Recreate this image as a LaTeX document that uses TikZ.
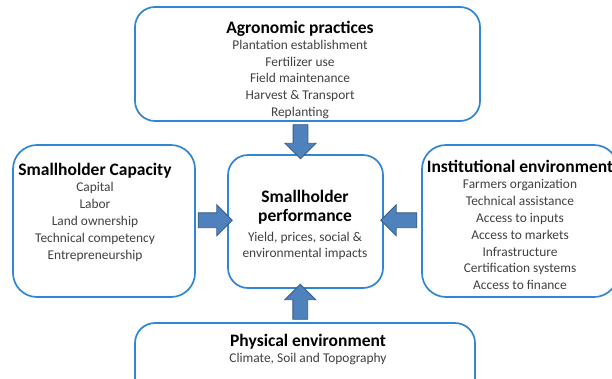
\documentclass[tikz,border=0pt]{standalone}
\usepackage{fontspec}
\setmainfont{Carlito}
\usetikzlibrary{positioning,shapes.arrows}
\definecolor{boxblue}{RGB}{46,134,212}
\definecolor{arrowfill}{RGB}{79,129,189}
\definecolor{arrowline}{RGB}{56,93,138}
\definecolor{itemgrey}{RGB}{64,64,64}
\tikzset{
  factor/.style={draw=boxblue, line width=1.7pt, rounded corners=20pt, fill=white, inner sep=0pt},
  heading/.style={font=\fontsize{17.5}{19}\selectfont\bfseries, text depth=4pt, inner sep=0pt, align=center},
  itemlist/.style={font=\fontsize{13.4}{16.8}\selectfont, text=itemgrey, align=center, inner sep=0pt},
  fatarrow/.style={single arrow, draw=arrowline, fill=arrowfill, line width=0.8pt, inner sep=7pt,
    text width=0pt, text height=0pt, text depth=0pt, minimum width=0pt, single arrow head extend=8pt, single arrow tip angle=90}
}

\begin{document}
\begin{tikzpicture}[x=1pt,y=-1pt]
\clip (0,0) rectangle (612,378);
\fill[white] (0,0) rectangle (612,378);

\node[factor, minimum width=345pt, minimum height=114pt] (agro) at (307.5,64) {};
\node[factor, minimum width=182pt, minimum height=152pt, rounded corners=24pt] (cap) at (104,221) {};
\node[factor, minimum width=155pt, minimum height=133pt] (perf) at (305.5,221.5) {};
\node[factor, minimum width=196pt, minimum height=152pt, rounded corners=24pt] (inst) at (520,221) {};
\node[factor, minimum width=340pt, minimum height=80pt] (phys) at (305,363) {};

\path (agro.south) -- node[fatarrow, minimum height=34pt, shape border rotate=270, xshift=-6pt] (agroarrow) {} (perf.north);
\path (cap.east) -- node[fatarrow, minimum height=34pt, shape border rotate=0, yshift=1pt] (caparrow) {} (perf.west);
\path (inst.west) -- node[fatarrow, minimum height=36pt, shape border rotate=180, yshift=1pt] (instarrow) {} (perf.east);
\path (phys.north) -- node[fatarrow, minimum height=35pt, shape border rotate=90, xshift=-5pt] (physarrow) {} (perf.south);

\node[heading] (agrotitle) at (300,29) {Agronomic practices};
\node[itemlist, below=2.5pt of agrotitle] (agroitems) {Plantation establishment\\Fertilizer use\\Field maintenance\\Harvest \& Transport\\Replanting};

\node[heading] (captitle) at (95,171) {Smallholder Capacity};
\node[itemlist, below=3pt of captitle] (capitems) {Capital\\Labor\\Land ownership\\Technical competency\\Entrepreneurship};

\node[heading] (perftitle) at (305,207.5) {Smallholder\\performance};
\node[itemlist, font=\fontsize{13.4}{15.5}\selectfont, below=7pt of perftitle] (perfitems) {Yield, prices, social \&\\environmental impacts};

\node[heading] (insttitle) at (520,168) {Institutional environment};
\node[itemlist, below=3pt of insttitle] (institems) {Farmers organization\\Technical assistance\\Access to inputs\\Access to markets\\Infrastructure\\Certification systems\\Access to finance};

\node[heading] (phystitle) at (308,342) {Physical environment};
\node[itemlist, below=3pt of phystitle] (physitems) {Climate, Soil and Topography};
\end{tikzpicture}
\end{document}
